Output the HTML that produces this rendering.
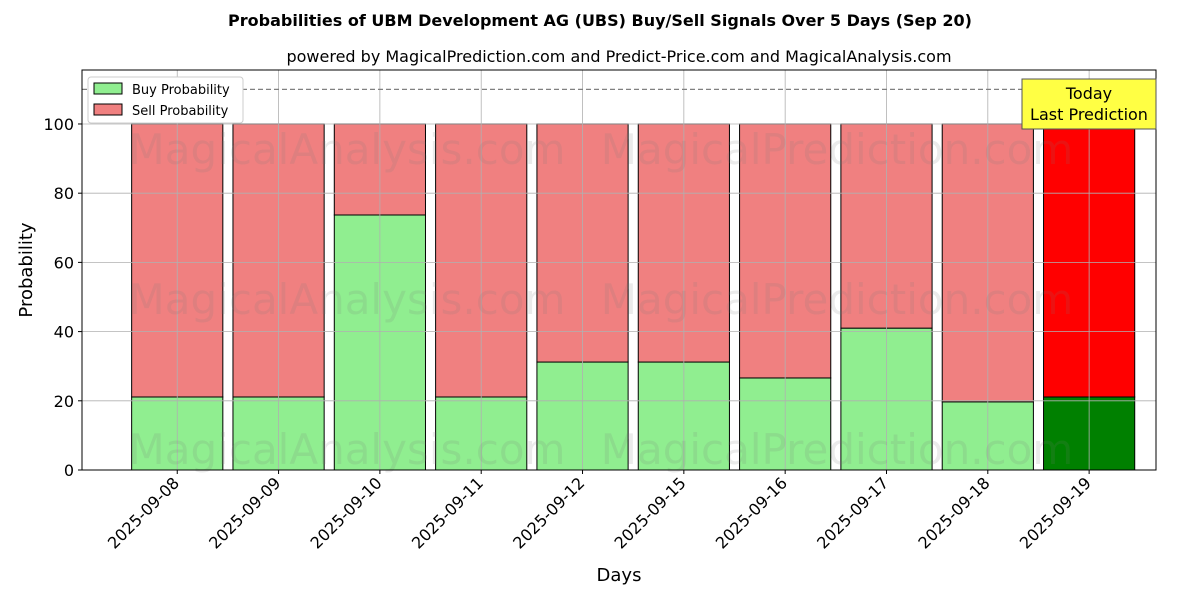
<!DOCTYPE html>
<html><head><meta charset="utf-8"><style>
body{margin:0;background:#fff;font-family:"DejaVu Sans","Liberation Sans",sans-serif;}
</style></head><body>
<svg id="c" width="1200" height="600" xmlns="http://www.w3.org/2000/svg"></svg>
<script>
const categories=["2025-09-08","2025-09-09","2025-09-10","2025-09-11","2025-09-12","2025-09-15","2025-09-16","2025-09-17","2025-09-18","2025-09-19"];
const buyValues=[21.1,21.1,73.7,21.1,31.2,31.2,26.6,41.0,19.7,21.1];
const sellValues=buyValues.map(v=>100-v);
const yTicks=[0,20,40,60,80,100];
const L=82,R=1156,T=70,B=470,yMax=115.6,xMin=-0.94,xMax=9.66;
const sx=i=>L+(i-xMin)/(xMax-xMin)*(R-L);
const sy=v=>B-v/yMax*(B-T);
const svg=document.getElementById('c');const NS="http://www.w3.org/2000/svg";
function mk(t,a,p){const e=document.createElementNS(NS,t);for(const k in a)e.setAttribute(k,a[k]);(p||svg).appendChild(e);return e;}
function tx(s,a){const e=mk('text',a);e.textContent=s;return e;}
tx("Probabilities of UBM Development AG (UBS) Buy/Sell Signals Over 5 Days (Sep 20)",{x:600,y:26,'text-anchor':'middle','font-size':16,'font-weight':'bold',});
tx("powered by MagicalPrediction.com and Predict-Price.com and MagicalAnalysis.com",{x:619,y:62,'text-anchor':'middle','font-size':16,});
// bars
const bw=0.9*(R-L)/(xMax-xMin);
categories.forEach((c,i)=>{
 const last=i===categories.length-1;
 const g=mk('g',{});
 mk('rect',{x:sx(i)-bw/2,y:sy(buyValues[i]),width:bw,height:sy(0)-sy(buyValues[i]),fill:last?'#008000':'#90ee90',stroke:'#000','stroke-width':1,},g);
 mk('rect',{x:sx(i)-bw/2,y:sy(buyValues[i]+sellValues[i]),width:bw,height:sy(buyValues[i])-sy(buyValues[i]+sellValues[i]),fill:last?'#ff0000':'#f08080',stroke:'#000','stroke-width':1,},g);
});
// grid (above bars)
categories.forEach((c,i)=>{mk('line',{x1:sx(i),x2:sx(i),y1:T,y2:B,stroke:'#b0b0b0','stroke-width':0.8,});});
yTicks.forEach(v=>{mk('line',{x1:L,x2:R,y1:sy(v),y2:sy(v),stroke:'#b0b0b0','stroke-width':0.8,});});
// watermarks
[[347,150],[837,150],[347,300],[837,300],[347,450],[837,450]].forEach((p,k)=>{
 tx(k%2?"MagicalPrediction.com":"MagicalAnalysis.com",{x:p[0],y:p[1]+14,'text-anchor':'middle','font-size':42,fill:'rgba(120,120,120,0.15)',});});
mk('line',{x1:L,x2:R,y1:sy(110),y2:sy(110),stroke:'#808080','stroke-width':1.3,'stroke-dasharray':'5,3',});
mk('rect',{x:L,y:T,width:R-L,height:B-T,fill:'none',stroke:'#000','stroke-width':1,});
yTicks.forEach(v=>{mk('line',{x1:L-4,x2:L,y1:sy(v),y2:sy(v),stroke:'#000',});
 tx(String(v),{x:L-8,y:sy(v)+6,'text-anchor':'end','font-size':16,});});
categories.forEach((c,i)=>{mk('line',{x1:sx(i),x2:sx(i),y1:B,y2:B+4,stroke:'#000',});
 const ax=sx(i)+3, ay=B+14;
 tx(c,{x:ax,y:ay,'text-anchor':'end','font-size':16,transform:`rotate(-45 ${ax} ${ay})`,});});
tx("Days",{x:619,y:581,'text-anchor':'middle','font-size':18,});
tx("Probability",{x:32,y:270,'text-anchor':'middle','font-size':18,transform:'rotate(-90 32 270)',});
// today box
mk('rect',{x:1022,y:79,width:134,height:50,fill:'#ffff44',stroke:'#555','stroke-width':1,});
tx("Today",{x:1089,y:99,'text-anchor':'middle','font-size':16,});
tx("Last Prediction",{x:1089,y:120,'text-anchor':'middle','font-size':16,});
// legend
const lg=mk('g',{});
mk('rect',{x:88,y:77,width:155,height:46,fill:'#fff',stroke:'#ccc',rx:3},lg);
mk('rect',{x:94,y:83,width:28,height:11,fill:'#90ee90',stroke:'#000',},lg);
mk('rect',{x:94,y:104,width:28,height:11,fill:'#f08080',stroke:'#000',},lg);
const t1=mk('text',{x:132,y:94,'font-size':13,},lg);t1.textContent="Buy Probability";
const t2=mk('text',{x:132,y:115,'font-size':13,},lg);t2.textContent="Sell Probability";
</script>
</body></html>
